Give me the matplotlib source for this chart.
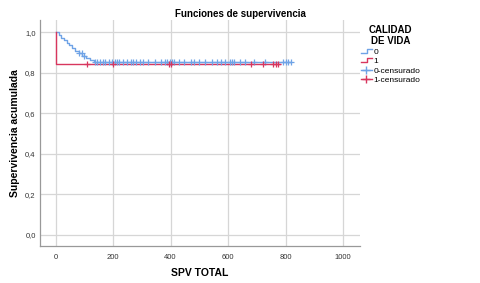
import matplotlib
matplotlib.use("Agg")
import matplotlib.pyplot as plt
import numpy as np
from matplotlib.lines import Line2D
from matplotlib.legend_handler import HandlerBase

plt.rcParams['font.family'] = ['Liberation Sans', 'DejaVu Sans']

# Group 0 (blue) step events
g0_times = [0, 10, 18, 28, 38, 48, 58, 68, 80, 92, 104, 118, 132, 820]
g0_surv = [1.0, 0.985, 0.973, 0.96, 0.948, 0.935, 0.922, 0.91, 0.897, 0.884, 0.872, 0.862, 0.852, 0.852]
g0_cens = [82, 90, 98, 138, 145, 155, 165, 172, 185, 195, 205, 215, 222, 235, 248, 262, 270, 280,
           292, 305, 320, 345, 368, 380, 388, 398, 405, 412, 430, 445, 470, 480, 500, 520, 545,
           560, 575, 590, 605, 612, 620, 640, 660, 690, 730, 790, 800, 810, 818]

# Group 1 (red)
g1_times = [0, 1, 780]
g1_surv = [1.0, 0.844, 0.844]
g1_cens = [110, 200, 395, 400, 680, 720, 755, 765, 775]

xticks = [0, 200, 400, 600, 800, 1000]
yticks = [0.0, 0.2, 0.4, 0.6, 0.8, 1.0]
ytick_labels = ['0,0', '0,2', '0,4', '0,6', '0,8', '1,0']

blue = '#6fa3e6'
red = '#d8365e'

def surv_at(times, surv, t):
    idx = np.searchsorted(times, t, side='right') - 1
    return np.array(surv)[idx]

fig = plt.figure(figsize=(4.8, 2.83), dpi=100)
ax = fig.add_axes([0.083, 0.131, 0.667, 0.798])

ax.step(g0_times, g0_surv, where='post', color=blue, lw=1.0, zorder=3)
ax.step(g1_times, g1_surv, where='post', color=red, lw=1.0, zorder=3)
ax.plot(g0_cens, surv_at(g0_times, g0_surv, g0_cens), '+', color=blue, ms=4, mew=0.9, zorder=4)
ax.plot(g1_cens, surv_at(g1_times, g1_surv, g1_cens), '+', color=red, ms=4, mew=0.9, zorder=5)

ax.set_xlim(-55, 1059)
ax.set_ylim(-0.054, 1.06)
ax.set_xticks(xticks)
ax.set_xticklabels([str(x) for x in xticks])
ax.set_yticks(yticks)
ax.set_yticklabels(ytick_labels)
ax.tick_params(axis='y', length=0, labelsize=5.5, labelcolor='#333333', pad=3)
ax.tick_params(axis='x', length=0, labelsize=5.5, labelcolor='#333333', pad=6)
ax.grid(True, color='#d6d6d6', lw=0.9)
ax.set_axisbelow(True)
for s in ['top', 'right']:
    ax.spines[s].set_visible(False)
for s in ['left', 'bottom']:
    ax.spines[s].set_color('#999999')
    ax.spines[s].set_linewidth(0.9)

ax.set_xlabel('SPV TOTAL', fontsize=7.5, fontweight='bold', labelpad=5)
ax.set_ylabel('Supervivencia acumulada', fontsize=7.5, fontweight='bold', labelpad=4)
fig.text(0.5, 0.95, 'Funciones de supervivencia', ha='center', va='center', fontsize=7, fontweight='bold')


class StepHandler(HandlerBase):
    def __init__(self, color):
        super().__init__()
        self.color = color

    def create_artists(self, legend, orig_handle, xdescent, ydescent, width, height, fontsize, trans):
        x = np.array([0, 0.6, 0.6, 1.0]) * width - xdescent
        y = np.array([0.15, 0.15, 0.85, 0.85]) * height - ydescent
        return [Line2D(x, y, color=self.color, lw=1.0, transform=trans)]


h0 = Line2D([], [], color=blue)
h1 = Line2D([], [], color=red)
hc0 = Line2D([], [], color=blue, marker='+', lw=1.0, ms=6)
hc1 = Line2D([], [], color=red, marker='+', lw=1.0, ms=6)
leg = fig.legend([h0, h1, hc0, hc1], ['0', '1', '0-censurado', '1-censurado'],
                 handler_map={h0: StepHandler(blue), h1: StepHandler(red)},
                 loc='upper left', bbox_to_anchor=(0.745, 0.925), frameon=False,
                 fontsize=6, title='CALIDAD\nDE VIDA', handlelength=1.3, handletextpad=0.2,
                 labelspacing=0.2, borderaxespad=0)
leg.get_title().set_fontweight('bold')
leg.get_title().set_fontsize(7)
leg.get_title().set_multialignment('center')
leg._legend_box.align = 'center'

fig.savefig('out.png', dpi=100)
